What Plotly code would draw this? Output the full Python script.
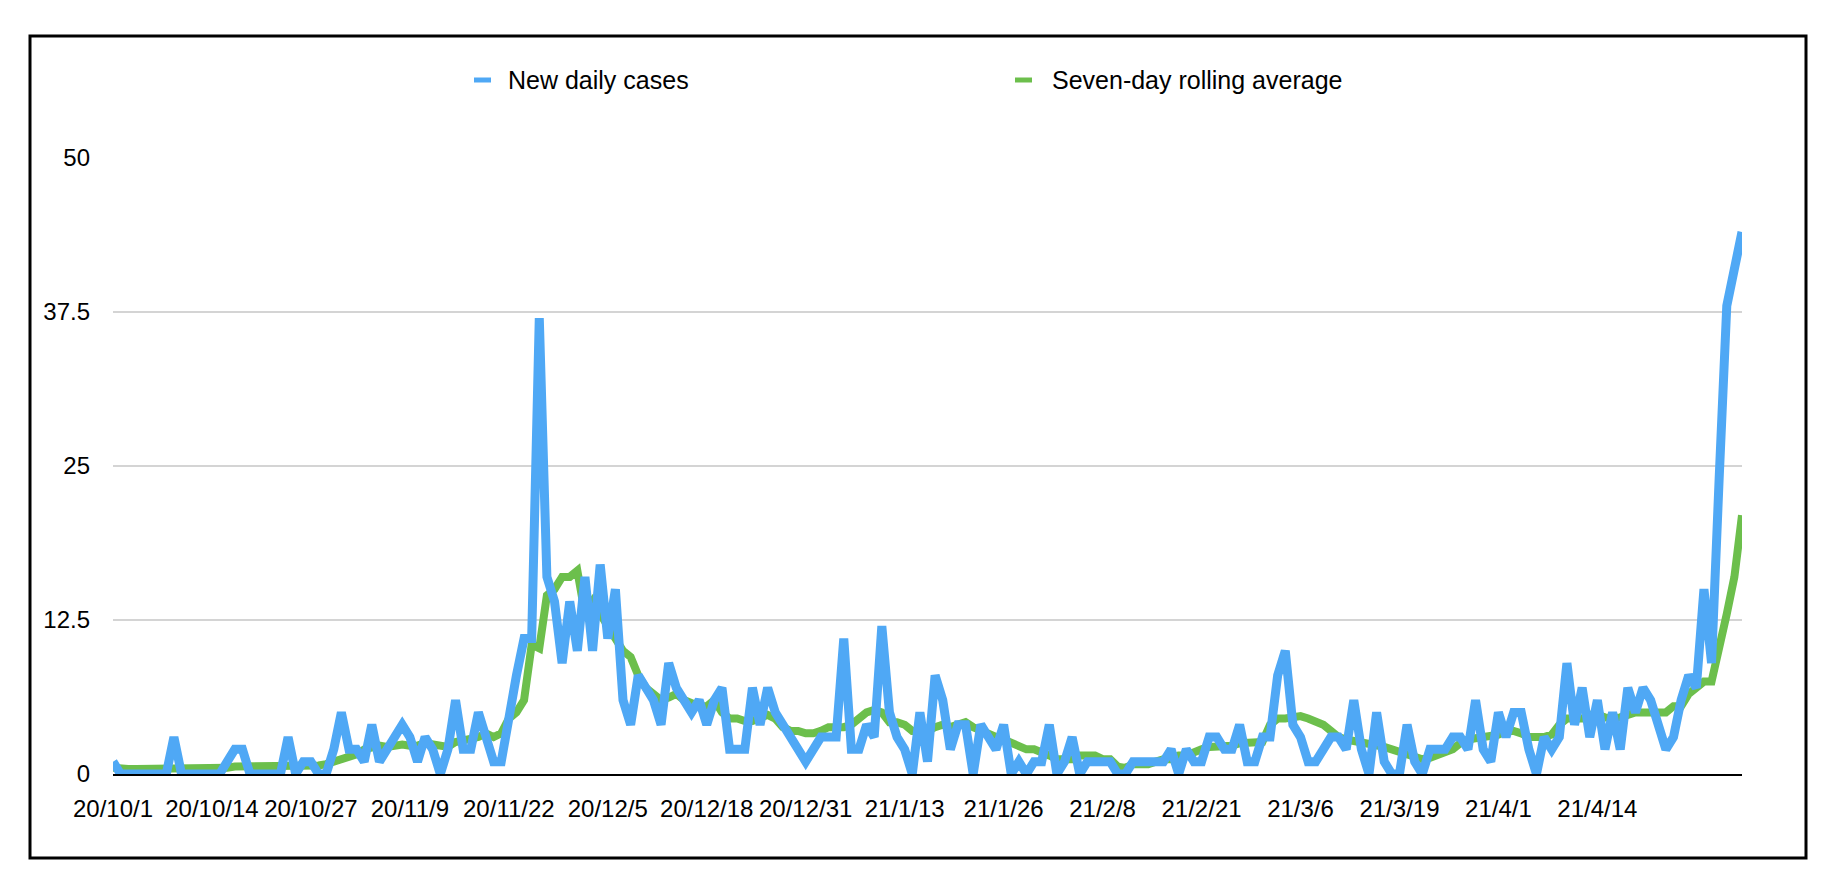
import pandas as pd
import plotly.graph_objects as go

start_date = "2020-10-01"

new_daily_cases = [
    1, 0, 0, 0, 0, 0, 0, 0, 3, 0,
    0, 0, 0, 0, 0, 1, 2, 2, 0, 0,
    0, 0, 0, 3, 0, 1, 1, 0, 0, 2,
    5, 2, 2, 1, 4, 1, 2, 3, 4, 3,
    1, 3, 2, 0, 2, 6, 2, 2, 5, 3,
    1, 1, 5, 8, 11, 11, 37, 16, 14, 9,
    14, 10, 16, 10, 17, 11, 15, 6, 4, 8,
    7, 6, 4, 9, 7, 6, 5, 6, 4, 6,
    7, 2, 2, 2, 7, 4, 7, 5, 4, 3,
    2, 1, 2, 3, 3, 3, 11, 2, 2, 4,
    3, 12, 5, 3, 2, 0, 5, 1, 8, 6,
    2, 4, 4, 0, 4, 3, 2, 4, 0, 1,
    0, 1, 1, 4, 0, 1, 3, 0, 1, 1,
    1, 1, 0, 0, 1, 1, 1, 1, 1, 2,
    0, 2, 1, 1, 3, 3, 2, 2, 4, 1,
    1, 3, 3, 8, 10, 4, 3, 1, 1, 2,
    3, 3, 2, 6, 2, 0, 5, 1, 0, 0,
    4, 1, 0, 2, 2, 2, 3, 3, 2, 6,
    2, 1, 5, 3, 5, 5, 2, 0, 3, 2,
    3, 9, 4, 7, 3, 6, 2, 5, 2, 7,
    5, 7, 6, 4, 2, 3, 6, 8, 7, 15,
    9, 24, 38, 41, 44,
]

rolling_average = [
    0.5, 0.4, 0.4, 0.4, 0.4, 0.4, 0.4, 0.4, 0.4, 0.4,
    0.4, 0.4, 0.4, 0.4, 0.4, 0.5, 0.6, 0.6, 0.7, 0.7,
    0.7, 0.7, 0.7, 0.7, 0.6, 0.7, 0.7, 0.7, 0.8, 1.0,
    1.3, 1.5, 1.6, 2.0, 2.1, 2.3, 2.2, 2.3, 2.4, 2.3,
    2.3, 2.5, 2.4, 2.2, 2.2, 2.6, 2.7, 2.8, 3.0, 3.3,
    3.0, 3.3, 4.5, 5.0, 6.0, 10.5, 10.2, 14.5, 15.0, 16.0,
    16.0, 16.5, 13.0, 14.0, 13.0, 12.0, 11.0, 10.0, 9.5, 8.0,
    7.0, 6.5, 6.0, 6.2, 6.5, 6.0, 5.8, 5.5, 5.5, 6.0,
    5.0, 4.5, 4.5, 4.3, 4.3, 4.5, 4.8, 4.5, 3.8, 3.5,
    3.5, 3.3, 3.3, 3.5, 3.8, 3.8, 3.8, 4.0, 4.5, 5.0,
    5.2, 5.0, 4.2, 4.2, 4.0, 3.5, 3.5, 3.5, 3.8, 4.0,
    3.8, 4.0, 4.2, 3.8, 3.5, 3.2, 3.0, 2.8, 2.5, 2.2,
    2.0, 2.0, 1.8, 1.5, 1.2, 1.2, 1.2, 1.5, 1.5, 1.5,
    1.2, 1.2, 0.6, 0.5, 0.8, 0.8, 0.8, 1.0, 1.2, 1.2,
    1.5, 1.5, 1.8, 2.0, 2.2, 2.2, 2.2, 2.3, 2.5, 2.5,
    2.5, 2.6, 4.0, 4.5, 4.5, 4.6, 4.7, 4.5, 4.2, 4.0,
    3.5, 3.0, 2.8, 2.7, 2.6, 2.5, 2.3, 2.2, 2.0, 1.8,
    1.6, 1.5, 1.2, 1.3, 1.5, 1.8, 2.0, 2.5, 2.8, 2.9,
    3.0, 3.1, 3.2, 3.5, 3.5, 3.3, 3.0, 3.0, 3.0, 3.2,
    4.0, 4.5, 4.5, 4.5, 4.8, 4.8, 4.6, 4.5, 4.6, 4.8,
    5.0, 5.0, 5.0, 5.0, 5.0, 5.5, 5.5, 6.5, 7.0, 7.5,
    7.5, 10.0, 13.0, 16.0, 21.0,
]

x_tick_dates = [
    "2020-10-01", "2020-10-14", "2020-10-27", "2020-11-09", "2020-11-22",
    "2020-12-05", "2020-12-18", "2020-12-31", "2021-01-13", "2021-01-26",
    "2021-02-08", "2021-02-21", "2021-03-06", "2021-03-19", "2021-04-01",
    "2021-04-14",
]
x_tick_labels = [
    "20/10/1", "20/10/14", "20/10/27", "20/11/9", "20/11/22",
    "20/12/5", "20/12/18", "20/12/31", "21/1/13", "21/1/26",
    "21/2/8", "21/2/21", "21/3/6", "21/3/19", "21/4/1",
    "21/4/14",
]
y_ticks = [0, 12.5, 25, 37.5, 50]
y_tick_labels = ["0", "12.5", "25", "37.5", "50"]
series_names = ["New daily cases", "Seven-day rolling average"]

dates = pd.date_range(start_date, periods=len(new_daily_cases), freq="D")

BLUE = "#4FA8F5"
GREEN = "#6CBF4C"
FONT = "Liberation Sans, Arial, Helvetica, sans-serif"

fig = go.Figure()
fig.add_trace(go.Scatter(x=dates, y=rolling_average, mode="lines",
                         name=series_names[1],
                         line=dict(color=GREEN, width=8)))
fig.add_trace(go.Scatter(x=dates, y=new_daily_cases, mode="lines",
                         name=series_names[0],
                         line=dict(color=BLUE, width=9)))

W, H = 1822, 874
L, R, T, B = 105, 88, 150, 108
pw, ph = W - L - R, H - T - B


def px(x):
    return (x - L) / pw


def py(y):
    return (H - B - y) / ph


fig.update_layout(
    width=W, height=H,
    margin=dict(l=L, r=R, t=T, b=B),
    paper_bgcolor="white", plot_bgcolor="white",
    showlegend=False,
    font=dict(family=FONT, size=24, color="black"),
    xaxis=dict(
        type="date",
        range=[dates[0], dates[-1]],
        tickvals=x_tick_dates,
        ticktext=x_tick_labels,
        tickangle=0,
        showgrid=False,
        showline=True, linecolor="black", linewidth=2,
        ticks="", ticklabelstandoff=12,
        tickfont=dict(size=24),
    ),
    yaxis=dict(
        range=[0, 50],
        tickvals=y_ticks, ticktext=y_tick_labels,
        showgrid=True, gridcolor="#d4d4d4", gridwidth=1.5,
        zeroline=False, showline=False,
        ticks="", ticklabelstandoff=22,
        tickfont=dict(size=24),
    ),
    shapes=[
        dict(type="rect", xref="paper", yref="paper",
             x0=px(22), x1=px(1798), y0=py(850), y1=py(28),
             line=dict(color="black", width=3), layer="below"),
        dict(type="line", xref="paper", yref="paper",
             x0=px(466), x1=px(483), y0=py(72), y1=py(72),
             line=dict(color=BLUE, width=5)),
        dict(type="line", xref="paper", yref="paper",
             x0=px(1007), x1=px(1024), y0=py(72), y1=py(72),
             line=dict(color=GREEN, width=5)),
    ],
    annotations=[
        dict(xref="paper", yref="paper", x=px(498), y=py(72),
             text=series_names[0], showarrow=False,
             xanchor="left", yanchor="middle", font=dict(size=25)),
        dict(xref="paper", yref="paper", x=px(1042), y=py(72),
             text=series_names[1], showarrow=False,
             xanchor="left", yanchor="middle", font=dict(size=25)),
    ],
)

fig.write_html("out.html")
